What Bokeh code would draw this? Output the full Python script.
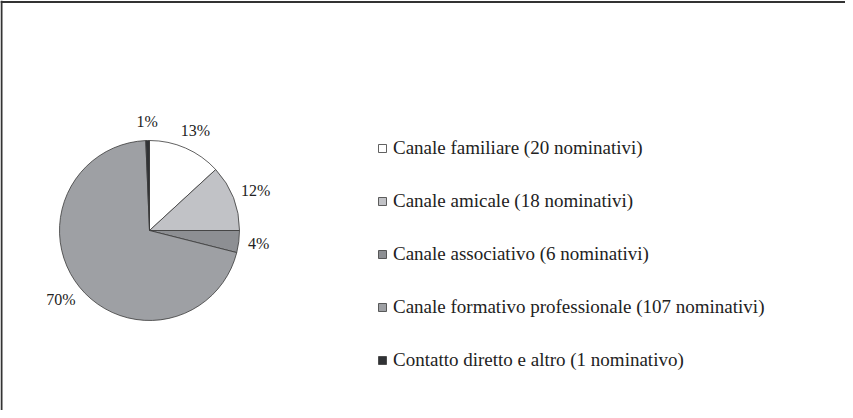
import math
from bokeh.plotting import figure
from bokeh.models import Range1d, Span, Legend, LegendItem
from bokeh.core.properties import value
from bokeh.embed import file_html
from bokeh.resources import INLINE

categories = [
    "Canale familiare (20 nominativi)",
    "Canale amicale (18 nominativi)",
    "Canale associativo (6 nominativi)",
    "Canale formativo professionale (107 nominativi)",
    "Contatto diretto e altro (1 nominativo)",
]
counts = [20, 18, 6, 107, 1]
pct_labels = ["13%", "12%", "4%", "70%", "1%"]
colors = ["#FFFFFF", "#C1C2C6", "#8D8F93", "#9EA0A4", "#303235"]

W, H = 845, 410
FONT = "serif"

p = figure(width=W, height=H, output_backend="svg", toolbar_location=None,
           x_range=Range1d(0, W), y_range=Range1d(0, H), min_border=0)
p.axis.visible = False
p.grid.visible = False
p.outline_line_color = None
p.background_fill_color = "white"
p.border_fill_color = "white"

p.add_layout(Span(location=1, dimension="height", line_color="#333333", line_width=2))
p.add_layout(Span(location=H - 1.5, dimension="width", line_color="#333333", line_width=2))

cx, cy, R = 149, 180, 90
total = sum(counts)
starts, ends, mids = [], [], []
acc = 0
for c in counts:
    a0 = acc / total * 2 * math.pi
    acc += c
    a1 = acc / total * 2 * math.pi
    starts.append(math.pi / 2 - a1)
    ends.append(math.pi / 2 - a0)
    mids.append((a0 + a1) / 2)

renderers = []
for i in range(len(counts)):
    r = p.wedge(x=cx, y=cy, radius=R, start_angle=starts[i], end_angle=ends[i],
                fill_color=colors[i], line_color="#3A3A3A", line_width=0.8)
    renderers.append(r)

lx, ly = [], []
for i, m in enumerate(mids):
    ux, uy = math.sin(m), math.cos(m)
    w = 8 * len(pct_labels[i])
    d = R + 12
    lx.append(cx + d * ux + ux * w / 2)
    ly.append(cy + d * uy + uy * 7)
p.text(x=lx, y=ly, text=pct_labels, text_font=value(FONT), text_font_size="16px",
       text_color="#222222", text_align="center", text_baseline="middle")

items = [LegendItem(label=categories[i], renderers=[renderers[i]]) for i in range(len(counts))]
legend = Legend(items=items, location=(377, 39), orientation="vertical",
                glyph_width=10, glyph_height=10, label_standoff=6,
                label_height=21, spacing=31, padding=0, margin=0,
                label_text_font=FONT, label_text_font_size="19px",
                label_text_color="#222222",
                background_fill_alpha=0, border_line_color=None)
p.add_layout(legend)

open("out.html", "w").write(file_html(p, INLINE))
